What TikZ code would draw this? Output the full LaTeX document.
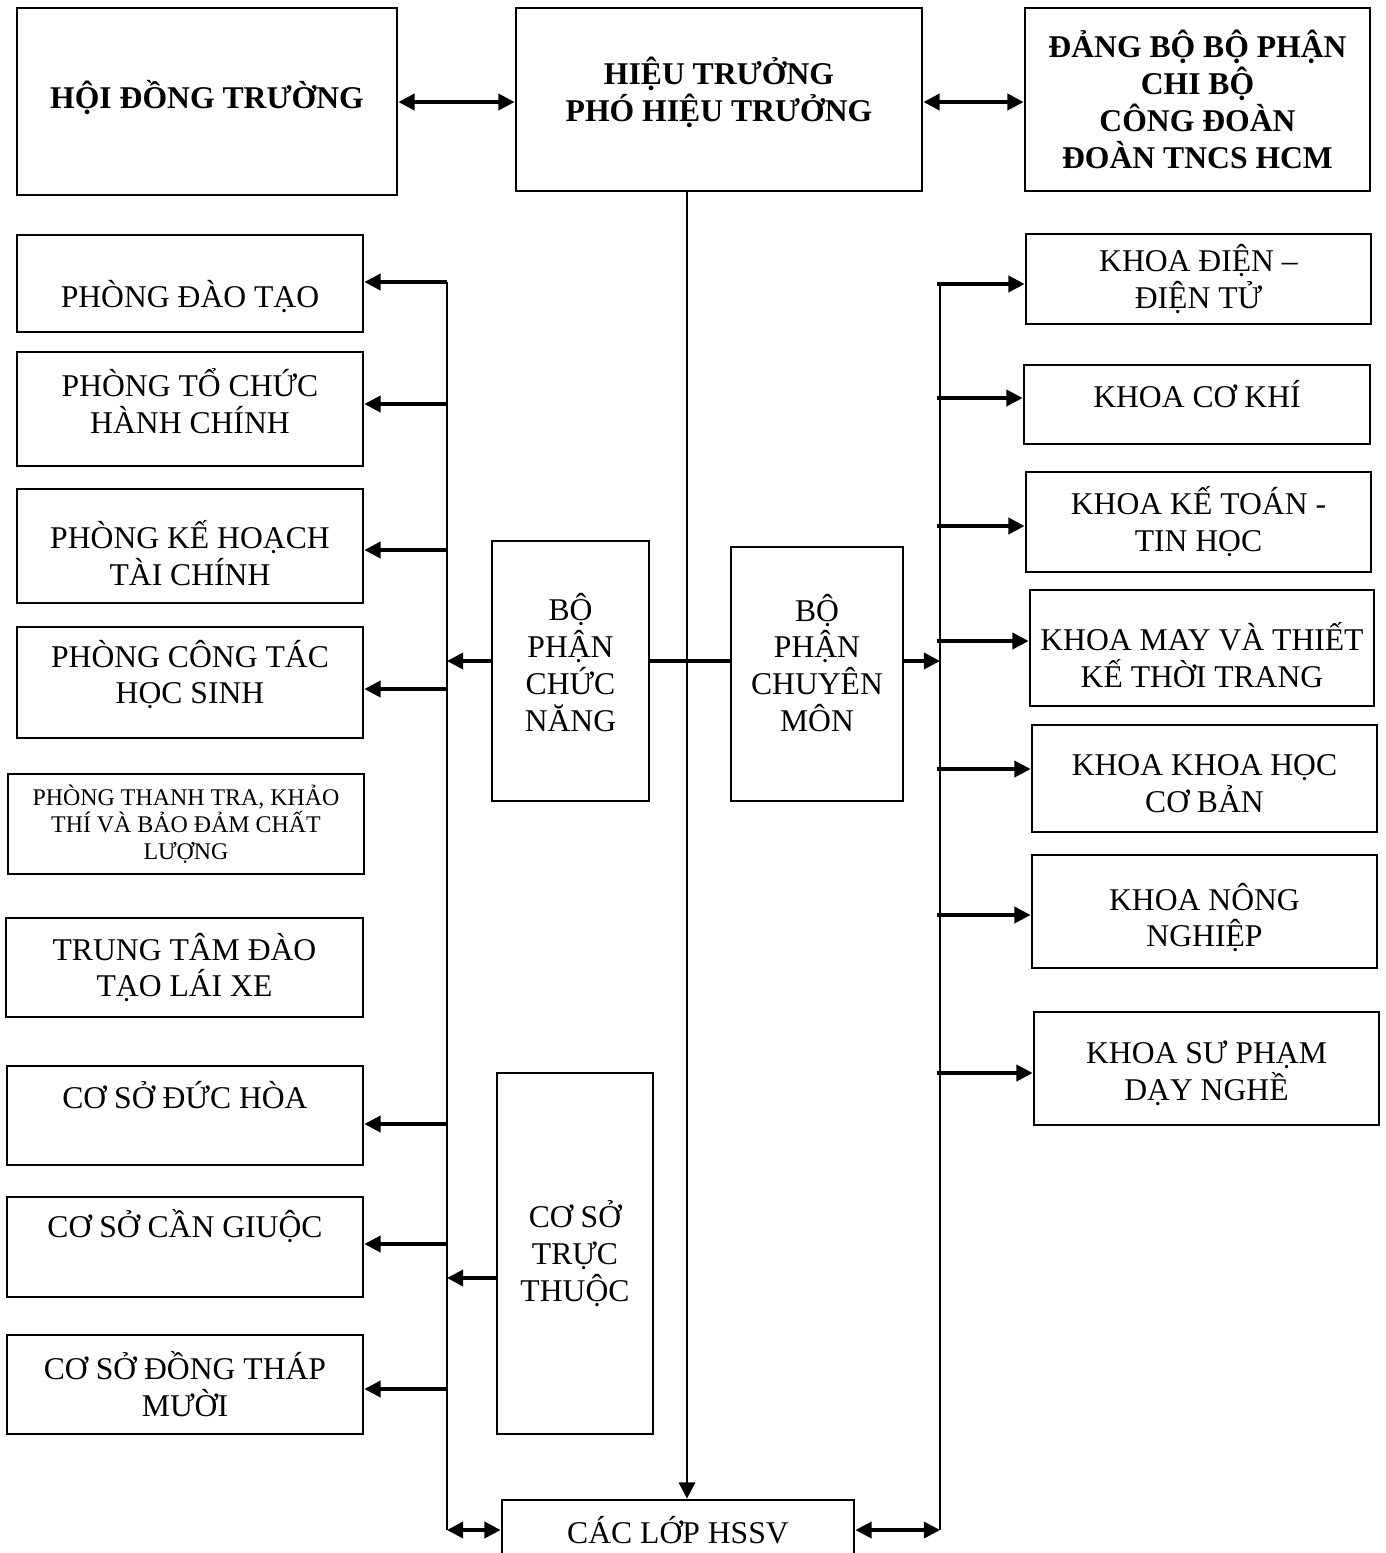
\documentclass[tikz,border=0pt]{standalone}
\usepackage{fontspec}
\setmainfont{Liberation Serif}
\usetikzlibrary{arrows.meta, positioning, calc}

\newcommand{\boxfont}{\fontsize{9}{10.5}\selectfont}
\newcommand{\smallboxfont}{\fontsize{6.8}{7.7}\selectfont}

\begin{document}
\begin{tikzpicture}[
  x=0.01cm, y=-0.01cm,
  box/.style={
    draw,
    line width=0.75pt,
    inner sep=0pt,
    align=center,
    font=\boxfont
  },
  headbox/.style={
    box,
    font=\boxfont\bfseries
  },
  txt/.style={align=center, inner sep=0pt, font=\boxfont},
  arrow/.style={-{Triangle[length=4.6pt,width=4.6pt]}, line width=0.95pt},
  both/.style={{Triangle[length=4.6pt,width=4.6pt]}-{Triangle[length=4.6pt,width=4.6pt]}, line width=0.95pt},
  bus/.style={line width=0.8pt}
]

\useasboundingbox (0,0) rectangle (1386,1553);

% ------------------------------------------------------------
% Top row
% ------------------------------------------------------------

\node[headbox, minimum width=3.80cm, minimum height=1.87cm,
  label={[txt, font=\boxfont\bfseries, yshift=0.045cm]center:HỘI ĐỒNG TRƯỜNG}] (hdt) at (207,101.5) {};
\node[headbox, minimum width=4.06cm, minimum height=1.83cm,
  label={[txt, font=\boxfont\bfseries, yshift=0.07cm]center:HIỆU TRƯỞNG\\PHÓ HIỆU TRƯỞNG}] (ht) at (719,99.5) {};
\node[headbox, minimum width=3.45cm, minimum height=1.83cm] (dang) at (1197.5,99.5)
  {ĐẢNG BỘ BỘ PHẬN\\CHI BỘ\\CÔNG ĐOÀN\\ĐOÀN TNCS HCM};

% ------------------------------------------------------------
% Left column
% ------------------------------------------------------------

\node[box, minimum width=3.46cm, minimum height=0.97cm,
  label={[txt, yshift=-0.13cm]center:PHÒNG ĐÀO TẠO}] (daotao) at (190,283.5) {};
\node[box, minimum width=3.46cm, minimum height=1.14cm,
  label={[txt, yshift=0.08cm]center:PHÒNG TỔ CHỨC\\HÀNH CHÍNH}] (tochuc) at (190,409) {};
\node[box, minimum width=3.46cm, minimum height=1.14cm,
  label={[txt, yshift=-0.07cm]center:PHÒNG KẾ HOẠCH\\TÀI CHÍNH}] (kehoach) at (190,546) {};
\node[box, minimum width=3.46cm, minimum height=1.11cm,
  label={[txt, yshift=0.08cm]center:PHÒNG CÔNG TÁC\\HỌC SINH}] (congtac) at (190,682.5) {};
\node[box, font=\smallboxfont, minimum width=3.56cm, minimum height=1.00cm] (thanhtra) at (186,824)
  {PHÒNG THANH TRA, KHẢO\\THÍ VÀ BẢO ĐẢM CHẤT\\LƯỢNG};
\node[box, minimum width=3.57cm, minimum height=0.99cm] (laixe) at (184.5,967.5)
  {TRUNG TÂM ĐÀO\\TẠO LÁI XE};
\node[box, minimum width=3.56cm, minimum height=0.99cm,
  label={[txt, yshift=0.20cm]center:CƠ SỞ ĐỨC HÒA}] (duchoa) at (185,1115.5) {};
\node[box, minimum width=3.56cm, minimum height=1.00cm,
  label={[txt, yshift=0.21cm]center:CƠ SỞ CẦN GIUỘC}] (cangiuoc) at (185,1247) {};
\node[box, minimum width=3.56cm, minimum height=0.99cm] (dongthap) at (185,1384.5)
  {CƠ SỞ ĐỒNG THÁP\\MƯỜI};

% ------------------------------------------------------------
% Middle blocks
% ------------------------------------------------------------

\node[box, minimum width=1.57cm, minimum height=2.60cm,
  label={[txt, yshift=0.085cm]center:BỘ\\PHẬN\\CHỨC\\NĂNG}] (chucnang) at (570.5,671) {};
\node[box, minimum width=1.72cm, minimum height=2.54cm,
  label={[txt, yshift=0.11cm]center:BỘ\\PHẬN\\CHUYÊN\\MÔN}] (chuyenmon) at (817,674) {};
\node[box, minimum width=1.56cm, minimum height=3.61cm] (tructhuoc) at (575,1253.5)
  {CƠ SỞ\\TRỰC\\THUỘC};
\node[box, minimum width=3.52cm, minimum height=1.00cm,
  label={[txt, yshift=0.20cm]center:CÁC LỚP HSSV}] (caclop) at (678,1550) {};

% ------------------------------------------------------------
% Right column
% ------------------------------------------------------------

\node[box, minimum width=3.45cm, minimum height=0.90cm] (dien) at (1198.5,279)
  {KHOA ĐIỆN –\\ĐIỆN TỬ};
\node[box, minimum width=3.46cm, minimum height=0.79cm,
  label={[txt, yshift=0.10cm]center:KHOA CƠ KHÍ}] (cokhi) at (1197,404.5) {};
\node[box, minimum width=3.45cm, minimum height=1.00cm] (ketoan) at (1198.5,522)
  {KHOA KẾ TOÁN -\\TIN HỌC};
\node[box, minimum width=3.44cm, minimum height=1.16cm,
  label={[txt, yshift=-0.07cm]center:KHOA MAY VÀ THIẾT\\KẾ THỜI TRANG}] (may) at (1202,648) {};
\node[box, minimum width=3.45cm, minimum height=1.07cm,
  label={[txt, yshift=-0.05cm]center:KHOA KHOA HỌC\\CƠ BẢN}] (khoahoc) at (1204.5,778.5) {};
\node[box, minimum width=3.45cm, minimum height=1.13cm,
  label={[txt, yshift=-0.06cm]center:KHOA NÔNG\\NGHIỆP}] (nong) at (1204.5,911.5) {};
\node[box, minimum width=3.45cm, minimum height=1.13cm,
  label={[txt, yshift=-0.05cm]center:KHOA SƯ PHẠM\\DẠY NGHỀ}] (supham) at (1206.5,1068.5) {};

% ------------------------------------------------------------
% Bus lines
% ------------------------------------------------------------

\coordinate (lbus) at (447,0);
\coordinate (cbus) at (687,0);
\coordinate (rbus) at (940,0);
\coordinate (bot) at (0,1530);

\draw[bus] (lbus |- 0,282) -- (lbus |- bot);
\draw[bus] (rbus |- 0,283) -- (rbus |- bot);
\draw[arrow, line width=0.8pt] (cbus |- ht.south) -- (cbus |- caclop.north);

% ------------------------------------------------------------
% Connectors
% ------------------------------------------------------------

\draw[both] (hdt.east |- 0,102) -- (ht.west |- 0,102);
\draw[both] (ht.east |- 0,102) -- (dang.west |- 0,102);

\foreach \n/\y in {daotao/282, tochuc/404, kehoach/550, congtac/689,
                   duchoa/1124, cangiuoc/1244, dongthap/1389}
  \draw[arrow] (lbus |- 0,\y) -- (\n.east |- 0,\y);

\foreach \n/\y in {dien/284, cokhi/398, ketoan/526, may/641,
                   khoahoc/769, nong/915, supham/1073}
  \draw[arrow] (937,\y) -- (\n.west |- 0,\y);

\draw[arrow] (chucnang.west |- 0,661) -- (lbus |- 0,661);
\draw[line width=0.95pt] (chucnang.east |- 0,661) -- (chuyenmon.west |- 0,661);
\draw[arrow] (chuyenmon.east |- 0,661) -- (rbus |- 0,661);
\draw[arrow] (tructhuoc.west |- 0,1278) -- (lbus |- 0,1278);

\draw[both] (lbus |- bot) -- (caclop.west |- bot);
\draw[both] (caclop.east |- bot) -- (rbus |- bot);

\end{tikzpicture}
\end{document}
